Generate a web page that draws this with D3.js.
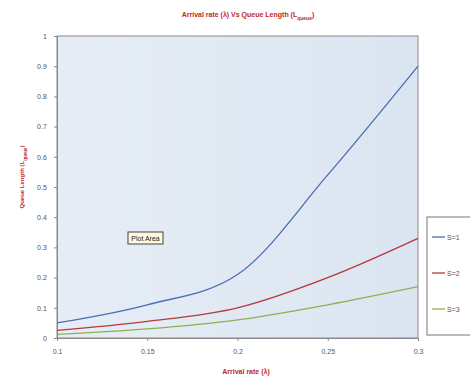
<!DOCTYPE html>
<html lang="en"><head><meta charset="UTF-8">
<script src="https://d3js.org/d3.v7.min.js"></script>
<style>
  body { margin: 0; background: #fff; }
  svg { font-family: "Liberation Sans", Arial, sans-serif; }
</style>
</head>
<body>
<div id="chart"></div>
<script>
// data
var lambdas = [0.1, 0.15, 0.2, 0.25, 0.3];
var series1 = [0.05, 0.11, 0.21, 0.54, 0.9];
var series2 = [0.025, 0.055, 0.1, 0.2, 0.33];
var series3 = [0.012, 0.03, 0.06, 0.11, 0.17];
var seriesNames = ["S=1", "S=2", "S=3"];
var seriesColors = ["#4a6fb5", "#b8383a", "#8cb050"];
var xTicks = [0.1, 0.15, 0.2, 0.25, 0.3];
var yTicks = [0, 0.1, 0.2, 0.3, 0.4, 0.5, 0.6, 0.7, 0.8, 0.9, 1];

var W = 470, H = 381;
var margin = {top: 36, right: 52, bottom: 43, left: 57};
var width = W - margin.left - margin.right,
    height = H - margin.top - margin.bottom;

var svg = d3.select("#chart").append("svg")
    .attr("width", W).attr("height", H);

var defs = svg.append("defs");
var grad = defs.append("linearGradient").attr("id", "bg")
    .attr("x1", 0).attr("x2", 1).attr("y1", 0).attr("y2", 0);
grad.append("stop").attr("offset", "0%").attr("stop-color", "#e6edf6");
grad.append("stop").attr("offset", "100%").attr("stop-color", "#dbe5f1");

var g = svg.append("g")
    .attr("transform", "translate(" + margin.left + "," + margin.top + ")");

var x = d3.scaleLinear().domain([0.1, 0.3]).range([0, width]);
var y = d3.scaleLinear().domain([0, 1]).range([height, 0]);

g.append("rect")
    .attr("width", width).attr("height", height)
    .attr("fill", "url(#bg)")
    .attr("stroke", "#8a8a8a").attr("stroke-width", 1);

var xAxis = g.append("g")
    .attr("transform", "translate(0," + height + ")")
    .call(d3.axisBottom(x).tickValues(xTicks).tickSize(3).tickFormat(d3.format("")));
var yAxis = g.append("g")
    .call(d3.axisLeft(y).tickValues(yTicks).tickSize(3).tickFormat(d3.format("")));

[xAxis, yAxis].forEach(function(a) {
    a.select(".domain").attr("stroke", "#8a8a8a");
    a.selectAll(".tick line").attr("stroke", "#8a8a8a");
    a.selectAll("text").attr("fill", "#555").style("font-size", "7px");
});
xAxis.selectAll("text").attr("dy", "1.4em");
yAxis.selectAll("text").attr("dx", "-0.6em");

var line = d3.line()
    .x(function(d) { return x(d[0]); })
    .y(function(d) { return y(d[1]); })
    .curve(d3.curveMonotoneX);

[series1, series2, series3].forEach(function(s, i) {
    g.append("path")
        .datum(lambdas.map(function(l, j) { return [l, s[j]]; }))
        .attr("fill", "none")
        .attr("stroke", seriesColors[i])
        .attr("stroke-width", 1.3)
        .attr("d", line);
});

// title and axis labels
svg.append("text")
    .attr("x", 248).attr("y", 17)
    .attr("text-anchor", "middle")
    .attr("fill", "#c0282d")
    .style("font-size", "7px").style("font-weight", "bold")
    .text("Arrival rate (λ) Vs Queue Length (L")
    .append("tspan").attr("baseline-shift", "sub").style("font-size", "5px").text("queue")
    .select(function() { return this.parentNode; })
    .append("tspan").text(")");

svg.append("text")
    .attr("x", 246).attr("y", 374)
    .attr("text-anchor", "middle")
    .attr("fill", "#c0282d")
    .style("font-size", "7px").style("font-weight", "bold")
    .text("Arrival rate (λ)");

svg.append("text")
    .attr("transform", "translate(24," + (margin.top + height / 2 - 10) + ") rotate(-90)")
    .attr("text-anchor", "middle")
    .attr("fill", "#c0282d")
    .style("font-size", "6px").style("font-weight", "bold")
    .text("Queue Length (L")
    .append("tspan").attr("baseline-shift", "sub").style("font-size", "4.5px").text("queue")
    .select(function() { return this.parentNode; })
    .append("tspan").text(")");

// "Plot Area" tooltip
var tip = svg.append("g").attr("transform", "translate(128,232)");
tip.append("rect").attr("width", 35).attr("height", 12)
    .attr("fill", "#fbfbe0").attr("stroke", "#444").attr("stroke-width", 1);
tip.append("text").attr("x", 17.5).attr("y", 9)
    .attr("text-anchor", "middle").attr("fill", "#222")
    .style("font-size", "7px").text("Plot Area");

// legend
var legend = svg.append("g").attr("transform", "translate(427,217)");
legend.append("rect").attr("width", 50).attr("height", 118)
    .attr("fill", "#fff").attr("stroke", "#777");
seriesNames.forEach(function(n, i) {
    var yy = 20 + i * 36;
    legend.append("line").attr("x1", 5).attr("x2", 18)
        .attr("y1", yy).attr("y2", yy)
        .attr("stroke", seriesColors[i]).attr("stroke-width", 1.3);
    legend.append("text").attr("x", 20).attr("y", yy + 2.5)
        .attr("fill", "#555").style("font-size", "7px").text(n);
});
</script>
</body>
</html>
